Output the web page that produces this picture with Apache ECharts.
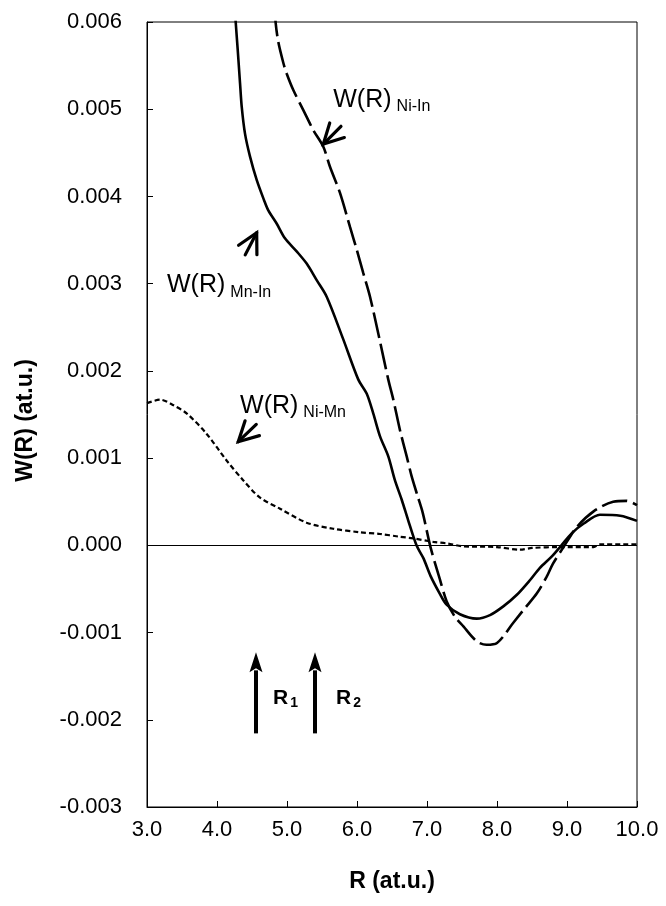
<!DOCTYPE html>
<html>
<head>
<meta charset="utf-8">
<script src="https://cdn.jsdelivr.net/npm/echarts@6/dist/echarts.min.js"></script>
<style>
  html, body { margin: 0; padding: 0; background: #fff; }
  #chart { width: 666px; height: 906px; }
</style>
</head>
<body>
<div id="chart"></div>
<script>
// Pair-distribution weights W(R) for three atom pairs, in atomic units.
const mnInR = [4.22, 4.267, 4.296, 4.329, 4.353, 4.40, 4.471, 4.567, 4.671, 4.733, 4.852, 4.971, 5.138, 5.281, 5.424, 5.567, 5.80, 6.019, 6.138, 6.233, 6.329, 6.447, 6.54, 6.64, 6.73, 6.85, 6.95, 7.05, 7.18, 7.28, 7.47, 7.71, 7.90, 8.09, 8.28, 8.47, 8.61, 8.78, 8.92, 9.07, 9.24, 9.47, 9.76, 10.0];
const mnInW = [0.0066, 0.0060, 0.00568, 0.0053, 0.00503, 0.00472, 0.00446, 0.00419, 0.00396, 0.00384, 0.00369, 0.00352, 0.00337, 0.00323, 0.00304, 0.00285, 0.00237, 0.0019, 0.00174, 0.00151, 0.00125, 0.00102, 0.00075, 0.00052, 0.00029, 0.0, -0.00015, -0.00035, -0.00055, -0.00068, -0.00079, -0.00084, -0.0008, -0.0007, -0.00057, -0.0004, -0.00026, -0.00013, 0.0, 0.00014, 0.00025, 0.00035, 0.00034, 0.00028];

const niInR = [4.79, 4.838, 4.876, 4.948, 4.995, 5.09, 5.233, 5.376, 5.519, 5.614, 5.757, 5.90, 5.996, 6.09, 6.186, 6.32, 6.447, 6.519, 6.614, 6.71, 6.781, 6.86, 6.94, 7.05, 7.18, 7.28, 7.40, 7.52, 7.71, 7.85, 8.0, 8.23, 8.42, 8.57, 8.71, 8.80, 8.95, 9.14, 9.38, 9.66, 9.85, 10.0];
const niInW = [0.0065, 0.00599, 0.00577, 0.00553, 0.00541, 0.00522, 0.00499, 0.00476, 0.00457, 0.00434, 0.00404, 0.00365, 0.00339, 0.00312, 0.00285, 0.00237, 0.0019, 0.00167, 0.00132, 0.00102, 0.00079, 0.00058, 0.00037, -0.00002, -0.00038, -0.00064, -0.00082, -0.00093, -0.0011, -0.00114, -0.00112, -0.00089, -0.0007, -0.00055, -0.00036, -0.00021, -0.00002, 0.00021, 0.00039, 0.0005, 0.00051, 0.00046];

const niMnR = [3.0, 3.19, 3.37, 3.57, 3.85, 4.14, 4.37, 4.61, 4.9, 5.28, 5.66, 6.04, 6.33, 6.6, 6.8, 7.09, 7.3, 7.5, 8.0, 8.33, 8.5, 8.9, 9.38, 9.47, 10.0];
const niMnW = [0.00163, 0.00167, 0.00161, 0.00151, 0.00128, 0.00097, 0.00075, 0.00055, 0.00042, 0.00026, 0.00019, 0.00015, 0.00013, 0.0001, 0.00008, 0.00004, 0.00002, -0.00001, -0.00002, -0.00005, -0.00003, -0.00002, -0.00002, 0.00001, 0.00001];

// Curve labels: anchor (left end of "W(R)" on its baseline) and the pair subscript
const curveLabelR = [5.661, 3.286, 4.329];
const curveLabelW = [0.005014, 0.002889, 0.001513];
const curveLabelMain = ['W(R)', 'W(R)', 'W(R)'];
const curveLabelSub = ['Ni-In', 'Mn-In', 'Ni-Mn'];

// Open pointer arrows: tip and tail in data units
const pointerTipR = [5.519, 4.567, 4.304];
const pointerTipW = [0.004601, 0.003584, 0.001188];
const pointerTailR = [5.771, 4.403, 4.561];
const pointerTailW = [0.004804, 0.00333, 0.001387];

// Shell radii markers R1, R2
const shellR = [4.557, 5.4];
const shellFrom = [-0.002156, -0.002156];
const shellTo = [-0.001227, -0.001227];
const shellLabelR = [4.8, 5.7];
const shellLabelW = [-0.00183, -0.00183];
const shellLabelMain = ['R', 'R'];
const shellLabelSub = ['1', '2'];

const xTickStep = 1;
const yTickStep = 0.001;

const FONT = '"Liberation Sans", Arial, Helvetica, sans-serif';

const zip = (a, b) => a.map((v, i) => [v, b[i]]);

const measureCtx = document.createElement('canvas').getContext('2d');
function textWidth(str, font) {
  measureCtx.font = font;
  return measureCtx.measureText(str).width;
}

function pointerItem(params, api) {
  const tip = api.coord([api.value(0), api.value(1)]);
  const tail = api.coord([api.value(2), api.value(3)]);
  const dx = tail[0] - tip[0], dy = tail[1] - tip[1];
  const len = Math.hypot(dx, dy);
  const ux = dx / len, uy = dy / len;
  const head = 22, spread = 28 * Math.PI / 180;
  const rot = a => [ux * Math.cos(a) - uy * Math.sin(a), ux * Math.sin(a) + uy * Math.cos(a)];
  const h1 = rot(spread), h2 = rot(-spread);
  return {
    type: 'group',
    children: [
      { type: 'line', shape: { x1: tip[0], y1: tip[1], x2: tail[0], y2: tail[1] },
        style: { stroke: '#000', lineWidth: 3.2, lineCap: 'round' } },
      { type: 'polyline',
        shape: { points: [[tip[0] + h1[0] * head, tip[1] + h1[1] * head], tip, [tip[0] + h2[0] * head, tip[1] + h2[1] * head]] },
        style: { stroke: '#000', lineWidth: 3.2, fill: null, lineCap: 'round', lineJoin: 'miter' } }
    ]
  };
}

function shellArrowItem(params, api) {
  const base = api.coord([api.value(0), api.value(1)]);
  const tip = api.coord([api.value(0), api.value(2)]);
  const headH = 20, headW = 13;
  return {
    type: 'group',
    children: [
      { type: 'line', shape: { x1: base[0], y1: base[1], x2: tip[0], y2: tip[1] + headH - 2 },
        style: { stroke: '#000', lineWidth: 4 } },
      { type: 'polygon',
        shape: { points: [[tip[0], tip[1]], [tip[0] - headW / 2, tip[1] + headH], [tip[0], tip[1] + headH - 4], [tip[0] + headW / 2, tip[1] + headH]] },
        style: { fill: '#000' } }
    ]
  };
}

function makeLabelRenderer(mains, subs, mainSize, subSize, weight, subDrop) {
  return function (params, api) {
    const p = api.coord([api.value(0), api.value(1)]);
    const i = params.dataIndex;
    const mainFont = `${weight} ${mainSize}px ${FONT}`;
    const subFont = `${weight} ${subSize}px ${FONT}`;
    const w = textWidth(mains[i], mainFont);
    const gap = weight === 'bold' ? 2 : 5;
    return {
      type: 'group',
      children: [
        { type: 'text', x: p[0], y: p[1] - 0.31 * mainSize,
          style: { text: mains[i], font: mainFont, fill: '#000', align: 'left', verticalAlign: 'middle' } },
        { type: 'text', x: p[0] + w + gap, y: p[1] + subDrop - 0.31 * subSize,
          style: { text: subs[i], font: subFont, fill: '#000', align: 'left', verticalAlign: 'middle' } }
      ]
    };
  };
}

const chart = echarts.init(document.getElementById('chart'), null, { renderer: 'canvas' });

chart.setOption({
  animation: false,
  backgroundColor: '#fff',
  grid: { left: 147, right: 29, top: 22, bottom: 99, show: true, borderColor: '#000', borderWidth: 1 },
  xAxis: {
    type: 'value', min: 3, max: 10, interval: xTickStep,
    axisLine: { show: true, onZero: false, lineStyle: { color: '#000', width: 1 } },
    axisTick: { show: true, inside: true, length: 6, lineStyle: { color: '#000' } },
    axisLabel: { formatter: v => v.toFixed(1), color: '#000', fontSize: 22, fontFamily: FONT, margin: 12 },
    splitLine: { show: false },
    name: 'R (at.u.)', nameLocation: 'middle', nameGap: 63,
    nameTextStyle: { fontWeight: 'bold', fontSize: 23, color: '#000', fontFamily: FONT }
  },
  yAxis: {
    type: 'value', min: -0.003, max: 0.006, interval: yTickStep,
    axisLine: { show: true, onZero: false, lineStyle: { color: '#000', width: 1 } },
    axisTick: { show: true, inside: true, length: 6, lineStyle: { color: '#000' } },
    axisLabel: { formatter: v => v.toFixed(3), color: '#000', fontSize: 22, fontFamily: FONT, margin: 25 },
    splitLine: { show: false },
    name: 'W(R) (at.u.)', nameLocation: 'middle', nameGap: 110,
    nameTextStyle: { fontWeight: 'bold', fontSize: 23, color: '#000', fontFamily: FONT, padding: [0, 12, 0, 0] }
  },
  series: [
    {
      name: 'W(R) Ni-Mn', type: 'line', data: zip(niMnR, niMnW), smooth: 0.3,
      showSymbol: false, clip: true,
      lineStyle: { color: '#000', width: 2.2, type: [5, 3] },
      markLine: {
        silent: true, symbol: ['none', 'none'], label: { show: false },
        lineStyle: { color: '#000', width: 1, type: 'solid' },
        data: [{ yAxis: 0 }]
      }
    },
    {
      name: 'W(R) Mn-In', type: 'line', data: zip(mnInR, mnInW), smooth: 0.3,
      showSymbol: false, clip: true,
      lineStyle: { color: '#000', width: 2.6, type: 'solid' }
    },
    {
      name: 'W(R) Ni-In', type: 'line', data: zip(niInR, niInW), smooth: 0.3,
      showSymbol: false, clip: true,
      lineStyle: { color: '#000', width: 2.6, type: [26, 6] }
    },
    {
      type: 'custom', silent: true, z: 5,
      data: pointerTipR.map((r, i) => [r, pointerTipW[i], pointerTailR[i], pointerTailW[i]]),
      renderItem: pointerItem
    },
    {
      type: 'custom', silent: true, z: 5,
      data: shellR.map((r, i) => [r, shellFrom[i], shellTo[i]]),
      renderItem: shellArrowItem
    },
    {
      type: 'custom', silent: true, z: 5,
      data: zip(curveLabelR, curveLabelW),
      renderItem: makeLabelRenderer(curveLabelMain, curveLabelSub, 25, 16, 'normal', 4)
    },
    {
      type: 'custom', silent: true, z: 5,
      data: zip(shellLabelR, shellLabelW),
      renderItem: makeLabelRenderer(shellLabelMain, shellLabelSub, 21, 14, 'bold', 3)
    }
  ]
});
</script>
</body>
</html>
